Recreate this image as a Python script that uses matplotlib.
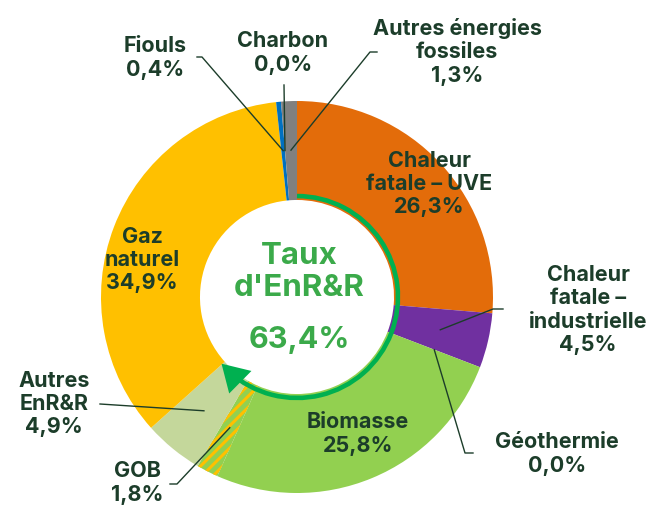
import numpy as np
import matplotlib.pyplot as plt
from matplotlib.patches import Arc

plt.rcParams['font.family'] = ['Inter', 'DejaVu Sans']
plt.rcParams['hatch.linewidth'] = 2.2

# data (clockwise from 12 o'clock)
sources = ["Chaleur\nfatale – UVE", "Chaleur\nfatale –\nindustrielle", "Géothermie",
           "Biomasse", "GOB", "Autres\nEnR&R", "Gaz\nnaturel", "Fiouls", "Charbon",
           "Autres énergies\nfossiles"]
shares = [26.3, 4.5, 0.0, 25.8, 1.8, 4.9, 34.9, 0.4, 0.0, 1.3]
share_labels = ["26,3%", "4,5%", "0,0%", "25,8%", "1,8%", "4,9%", "34,9%", "0,4%", "0,0%", "1,3%"]
colors = ["#E36C0A", "#7030A0", "#5B9BD5", "#92D050", "#92D050", "#C4D79B",
          "#FFC000", "#0070C0", "#262626", "#808080"]
enr_rate = "63,4%"

txt_col = "#1C3D2A"
green = "#00B050"
green_txt = "#3BAA4A"

# pixel layout of the reference (center of donut and radius)
CX, CY, R = 297, 297, 196
W, H = 660, 508


def P(x, y):
    return ((x - CX) / R, (CY - y) / R)


fig = plt.figure(figsize=(6.6, 5.08), dpi=100)
ax = fig.add_axes([0, 0, 1, 1])

wedges, _ = ax.pie(shares, colors=colors, startangle=90, counterclock=False,
                   radius=1.0, wedgeprops=dict(width=0.505, linewidth=0))
wedges[4].set_hatch('///')
wedges[4].set_edgecolor('#FFC000')
wedges[4].set_linewidth(0)

ax.set_xlim(-CX / R, (W - CX) / R)
ax.set_ylim((CY - H) / R, CY / R)
ax.set_aspect('equal')
ax.axis('off')

# labels: text center px, leader pts px
layout = {
    0: ((429, 184), None),
    1: ((588, 310), [(503, 309), (493, 309)]),
    2: ((557, 454), [(473, 453), (465, 453)]),
    3: ((358, 434), None),
    4: ((137, 483), [(170, 484), (177, 484)]),
    5: ((54, 404), [(100, 404)]),
    6: ((142, 260), None),
    7: ((155, 58), [(197, 57), (202, 57)]),
    8: ((283, 53), [(284, 85)]),
    9: ((457, 52), [(377, 52), (370, 52)]),
}

for i, w in enumerate(wedges):
    pos, leader = layout[i]
    ax.text(*P(*pos), sources[i] + "\n" + share_labels[i], ha='center', va='center',
            fontsize=15.5, fontweight='bold', color=txt_col, linespacing=1.2)
    if leader:
        mid = np.deg2rad((w.theta1 + w.theta2) / 2)
        anchor = (0.75 * np.cos(mid), 0.75 * np.sin(mid))
        pts = [P(*p) for p in leader] + [anchor]
        xs, ys = zip(*pts)
        ax.plot(xs, ys, color=txt_col, lw=1.0, zorder=5)

# EnR&R ring with arrow
enr_share = sum(shares[:6]) / sum(shares)
end_ang = 90 - 360 * enr_share
rr = 0.515
ax.add_patch(Arc((0, 0), 2 * rr, 2 * rr, theta1=end_ang + 6, theta2=90,
                 color=green, lw=3.3, zorder=6))
a0 = np.deg2rad(end_ang + 9)
a1 = np.deg2rad(end_ang - 2)
ax.annotate('', xy=(rr * np.cos(a1), rr * np.sin(a1)), xytext=(rr * np.cos(a0), rr * np.sin(a0)),
            arrowprops=dict(arrowstyle='-|>,head_length=1.0,head_width=0.6', color=green,
                            lw=0, mutation_scale=19), zorder=7)

ax.text(*P(299, 272), "Taux\nd'EnR&R", ha='center', va='center', fontsize=22.5,
        fontweight='bold', color=green_txt, linespacing=1.2)
ax.text(*P(299, 340), enr_rate, ha='center', va='center', fontsize=22,
        fontweight='bold', color=green_txt)

fig.savefig("out.png", dpi=100)
